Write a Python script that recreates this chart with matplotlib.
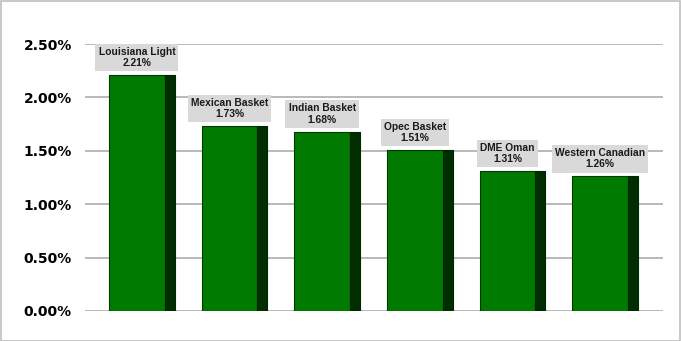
import matplotlib
matplotlib.use("Agg")
import matplotlib.pyplot as plt
import numpy as np

categories = ["Louisiana Light", "Mexican Basket", "Indian Basket", "Opec Basket", "DME Oman", "Western Canadian"]
values = [2.21, 1.73, 1.68, 1.51, 1.31, 1.26]
yticks = [0.0, 0.5, 1.0, 1.5, 2.0, 2.5]
ytick_labels = ["0.00%", "0.50%", "1.00%", "1.50%", "2.00%", "2.50%"]

W, H = 681, 341
fig = plt.figure(figsize=(W / 100, H / 100), dpi=100)
fig.patch.set_facecolor("white")

# figure border
fig.add_artist(plt.Rectangle((0.5 / W, 0.5 / H), 1 - 1.5 / W, 1 - 1.5 / H, transform=fig.transFigure,
                             fill=False, edgecolor="#bfbfbf", linewidth=1.2))

left, right = 85 / W, 663 / W
bottom, top = 1 - 311 / H, 1 - 44 / H
ax = fig.add_axes([left, bottom, right - left, top - bottom])

x = np.arange(len(categories))
face_w = 0.6
side_w = 0.11

ax.bar(x, values, width=face_w, color="#007a00", edgecolor="#003a00", linewidth=0.8, zorder=3,
       joinstyle="round")
ax.bar(x + face_w / 2 + side_w / 2, values, width=side_w, color="#002e00", edgecolor="#002800",
       linewidth=0.8, zorder=3, joinstyle="round")

for xi, v, c in zip(x, values, categories):
    ax.annotate(f"{c}\n{v:.2f}%", xy=(xi, v), xytext=(0, 5), textcoords="offset points",
                ha="center", va="bottom", fontsize=7.4, fontweight="bold", family="Liberation Sans",
                color="#1a1a1a", linespacing=1.15, zorder=5, annotation_clip=False,
                bbox=dict(boxstyle="square,pad=0.3", facecolor="#d9d9d9", edgecolor="none"))

ax.set_xlim(-0.56, 5.68)
ax.set_ylim(0, 2.5)
ax.set_yticks(yticks)
ax.set_yticklabels(ytick_labels, fontsize=10, fontweight="bold", family="DejaVu Sans")
ax.set_xticks([])
ax.tick_params(axis="y", length=0, pad=9.5)
ax.grid(axis="y", color="#b3b3b3", linewidth=1.3, zorder=0)
ax.set_axisbelow(True)
for s in ax.spines.values():
    s.set_visible(False)
ax.set_facecolor("none")

fig.savefig("out.png", dpi=100)
